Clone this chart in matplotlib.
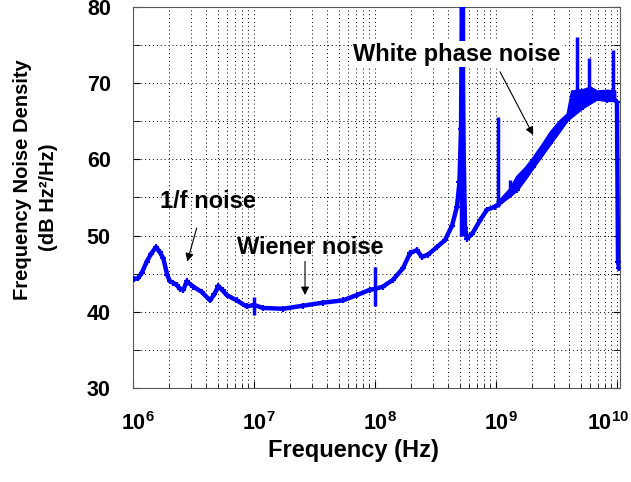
import numpy as np
import matplotlib
matplotlib.use('Agg')
import matplotlib.pyplot as plt
import matplotlib.transforms as mtransforms
from matplotlib.ticker import LogLocator, NullFormatter, MultipleLocator

plt.rcParams['font.family'] = ['Liberation Sans', 'DejaVu Sans']
plt.rcParams['font.weight'] = 'bold'
plt.rcParams['mathtext.fontset'] = 'custom'
plt.rcParams['mathtext.rm'] = 'Liberation Sans:bold'
plt.rcParams['mathtext.bf'] = 'Liberation Sans:bold'

# main trace
freq_hz = [1.02e6, 1.10e6, 1.18e6, 1.30e6, 1.41e6, 1.55e6, 1.67e6, 1.78e6, 1.92e6,
           2.02e6, 2.15e6, 2.30e6, 2.45e6, 2.61e6, 2.78e6, 3.15e6, 3.70e6, 4.33e6,
           4.70e6, 5.07e6, 5.50e6, 5.95e6, 7.19e6, 8.70e6, 1.00e7, 1.19e7, 1.74e7,
           2.54e7, 3.72e7, 5.44e7, 7.10e7, 9.10e7, 1.00e8, 1.16e8, 1.41e8, 1.70e8,
           1.95e8, 2.22e8, 2.44e8, 2.74e8, 3.25e8, 3.79e8, 4.33e8, 4.76e8, 4.99e8,
           5.14e8, 5.24e8, 5.39e8, 5.55e8, 5.76e8, 6.34e8, 7.38e8, 8.43e8, 9.82e8,
           1.08e9, 1.48e9, 2.02e9, 2.79e9, 3.86e9, 5.24e9, 6.84e9, 8.26e9, 9.61e9,
           1.00e10, 1.02e10, 1.04e10]
noise_db = [44.3, 44.4, 45.1, 46.6, 47.6, 48.5, 47.8, 47.0, 44.8,
            44.0, 43.8, 43.5, 43.0, 42.9, 44.0, 43.3, 42.6, 41.5,
            42.3, 43.4, 42.8, 42.2, 41.5, 40.7, 40.9, 40.5, 40.4,
            40.8, 41.2, 41.5, 42.2, 42.9, 43.0, 43.3, 44.2, 45.7,
            47.7, 48.1, 47.2, 47.5, 48.5, 49.4, 51.3, 53.8, 57.0,
            64.0, 80.5, 62.0, 51.0, 49.6, 50.2, 52.0, 53.4, 53.8,
            54.3, 56.0, 59.0, 62.1, 65.2, 66.9, 68.0, 67.8, 67.8,
            67.5, 46.5, 45.8]

# thick band above the white phase noise slope
band_f = [1.08e9, 1.30e9, 1.48e9, 1.75e9, 2.02e9, 2.40e9, 2.79e9, 3.30e9, 3.86e9,
          4.20e9, 5.24e9, 6.00e9, 6.84e9, 8.26e9, 9.61e9]
band_lo = [54.3, 55.2, 56.0, 57.5, 59.0, 60.6, 62.1, 63.6, 65.2,
           65.8, 66.9, 67.4, 68.0, 67.8, 67.8]
band_hi = [54.8, 56.2, 57.8, 59.0, 60.3, 62.0, 63.6, 65.0, 66.0,
           69.0, 69.2, 69.5, 69.0, 69.1, 69.0]

# narrow spurs
spur_f = [1.00e7, 1.00e8, 5.14e8, 5.30e8, 1.04e9, 1.31e9, 4.67e9, 5.87e9, 9.27e9]
spur_lo = [39.6, 40.8, 50.0, 50.0, 53.8, 55.5, 68.0, 68.0, 68.0]
spur_hi = [42.0, 45.9, 80.5, 80.5, 65.6, 57.3, 76.1, 73.3, 74.3]

x_ticks = [1e6, 1e7, 1e8, 1e9, 1e10]
x_ticklabels = [r'$\mathbf{10^{6}}$', r'$\mathbf{10^{7}}$', r'$\mathbf{10^{8}}$',
                r'$\mathbf{10^{9}}$', r'$\mathbf{10^{10}}$']

blue = '#0000FF'

fig = plt.figure(figsize=(6.31, 4.82), dpi=100)
ax = fig.add_axes([0.2108, 0.195, 0.7718, 0.7905])

ax.fill_between(band_f, band_lo, band_hi, color=blue, lw=1.5, zorder=3)
ax.vlines(spur_f, spur_lo, spur_hi, color=blue, lw=2.5, zorder=3)
ax.plot(freq_hz, noise_db, color=blue, lw=3.2, marker='+', ms=5, mew=1.5, zorder=3)

ax.set_xscale('log')
ax.set_xlim(1e6, 1.06e10)
ax.set_ylim(30, 80)
ax.set_xticks(x_ticks)
ax.set_xticklabels(x_ticklabels)
ax.xaxis.set_minor_locator(LogLocator(base=10, subs=np.arange(2, 10)))
ax.xaxis.set_minor_formatter(NullFormatter())
ax.set_yticks(np.arange(30, 81, 10))
ax.yaxis.set_minor_locator(MultipleLocator(5))

ax.grid(True, which='both', color='k', ls=(0, (1, 3)), lw=0.7)
ax.tick_params(which='both', direction='in', right=True, labelsize=15.5, colors='k')
ax.tick_params(axis='x', which='major', length=5, pad=17)
ax.tick_params(axis='y', which='major', length=5, pad=16)
ax.tick_params(axis='x', which='minor', length=3)
ax.tick_params(axis='y', which='minor', length=5)
for s in ax.spines.values():
    s.set_color('0.35')
    s.set_linewidth(0.8)

# MATLAB-style: keep the base "10" over the tick, last label nudged inside
shifts = [5, 5, 5, 5, -9]
for lab, dx in zip(ax.get_xticklabels(), shifts):
    lab.set_transform(lab.get_transform() +
                      mtransforms.ScaledTranslation(dx / 100, 0, fig.dpi_scale_trans))

fig.text(353 / 631, 1 - 451 / 482, 'Frequency (Hz)', ha='center', va='center', fontsize=17)
fig.text(22.5 / 631, 1 - 180 / 482, 'Frequency Noise Density', rotation=90,
         ha='center', va='center', fontsize=14.5)
fig.text(49 / 631, 1 - 197 / 482, '(dB Hz²/Hz)', rotation=90,
         ha='center', va='center', fontsize=14.5)

arrow = dict(arrowstyle='-|>', color='k', lw=0.8, mutation_scale=12, shrinkA=0, shrinkB=0)
ax.text(4.13e6, 54.5, '1/f noise', ha='center', va='center', fontsize=17, zorder=5)
ax.annotate('', xy=(2.81e6, 46.6), xytext=(3.36e6, 51.0), arrowprops=arrow, zorder=5)
ax.text(2.90e7, 48.5, 'Wiener noise', ha='center', va='center', fontsize=17, zorder=5)
ax.annotate('', xy=(2.64e7, 42.2), xytext=(2.64e7, 46.6), arrowprops=arrow, zorder=5)
ax.text(4.76e8, 73.8, 'White phase noise', ha='center', va='center', fontsize=17, zorder=5,
        bbox=dict(facecolor='white', edgecolor='none', pad=1))
ax.annotate('', xy=(2.03e9, 63.2), xytext=(1.08e9, 71.5), arrowprops=arrow, zorder=5)

fig.savefig('out.png', dpi=100)
